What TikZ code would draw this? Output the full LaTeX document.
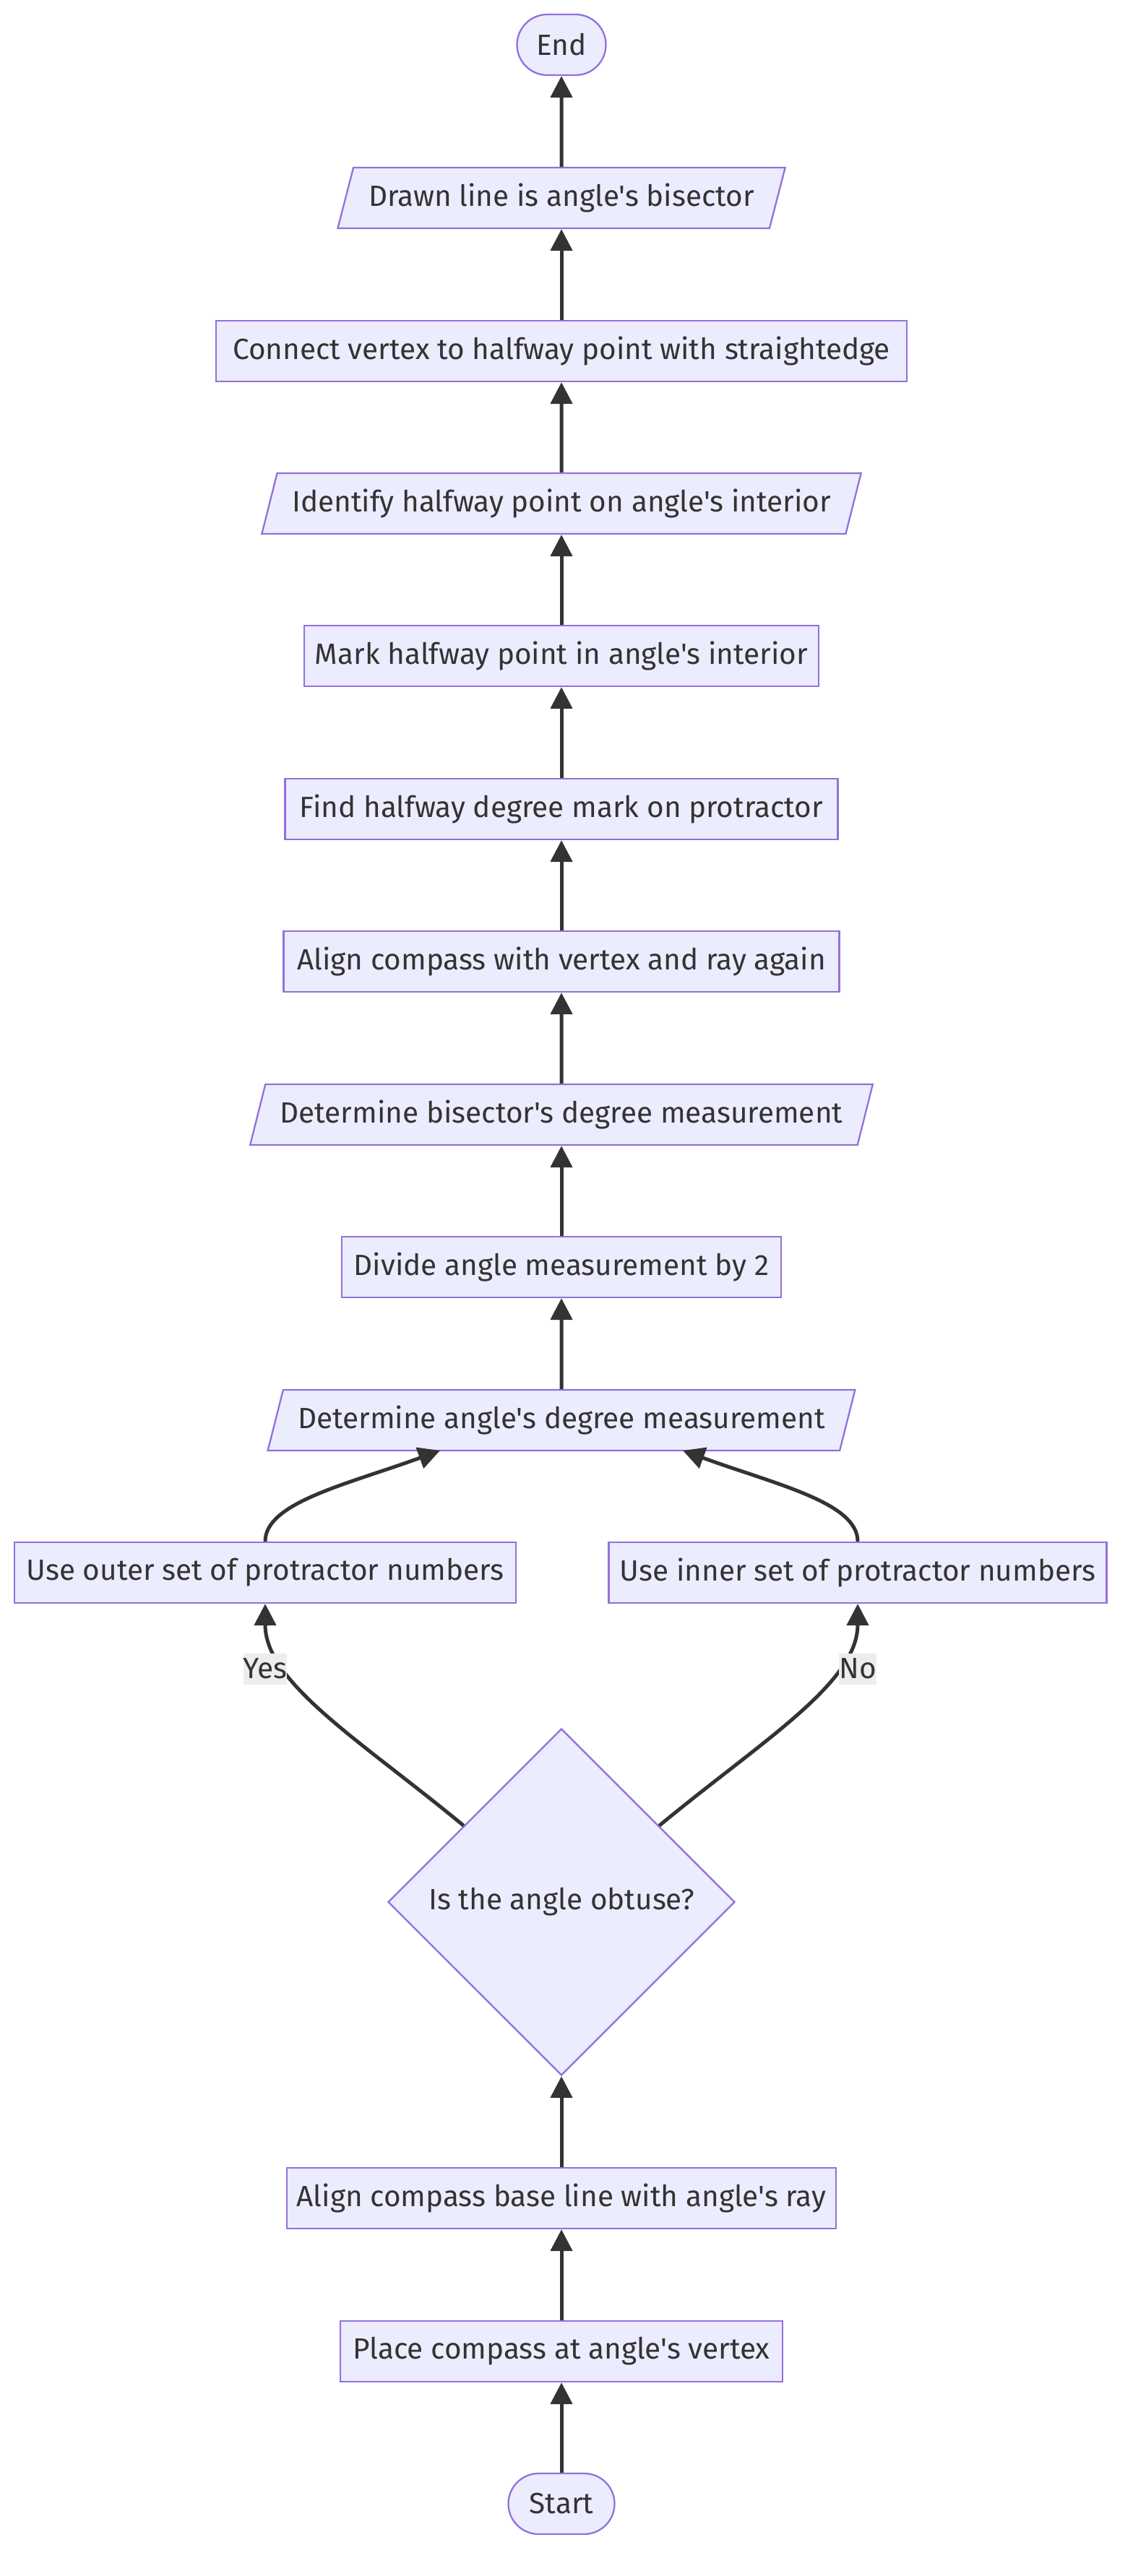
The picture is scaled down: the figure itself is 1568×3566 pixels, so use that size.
\documentclass[tikz,border=0pt]{standalone}
\usepackage{fontspec}
\newfontfamily\chartfont{Fira Sans}
\usetikzlibrary{shapes.geometric,arrows.meta}
\definecolor{boxfill}{HTML}{ECECFF}
\definecolor{boxline}{HTML}{9370DB}
\definecolor{ink}{HTML}{333333}
\definecolor{tagfill}{HTML}{EDEDED}

\begin{document}
\begin{tikzpicture}[x=1pt,y=-1pt]
\tikzset{chartnode/.style={draw=boxline, fill=boxfill, line width=2.3pt, text=ink, inner sep=0pt, minimum height=84pt, font=\chartfont\fontsize{40.5pt}{48pt}\selectfont},
  stepbox/.style={chartnode, rectangle},
  iobox/.style={chartnode, trapezium, trapezium left angle=63.43, trapezium right angle=116.57, trapezium stretches=true},
  termbox/.style={chartnode, rectangle, rounded corners=42pt},
  decidebox/.style={chartnode, diamond, aspect=1, minimum width=480pt, minimum height=480pt},
  tag/.style={fill=tagfill, text=ink, inner xsep=0pt, inner ysep=0pt, minimum height=43pt, font=\chartfont\fontsize{40.5pt}{48pt}\selectfont},
  edgeline/.style={draw=ink, line width=5pt, -{Triangle[length=30pt,width=30pt]}}}
\useasboundingbox (0,0) rectangle (1568,3566);
\node[termbox, minimum width=123pt] (fin) at (777,62) {End};
\node[iobox, minimum width=620pt] (bisector) at (777,274) {Drawn line is angle's bisector};
\node[stepbox, minimum width=956pt] (connect) at (777,486) {Connect vertex to halfway point with straightedge};
\node[iobox, minimum width=833pt] (identify) at (777,697) {Identify halfway point on angle's interior};
\node[stepbox, minimum width=712pt] (mark) at (777,908) {Mark halfway point in angle's interior};
\node[stepbox, minimum width=765pt] (findmark) at (777,1120) {Find halfway degree mark on protractor};
\node[stepbox, minimum width=769pt] (again) at (777,1331) {Align compass with vertex and ray again};
\node[iobox, minimum width=862pt] (bisdeg) at (777,1543) {Determine bisector's degree measurement};
\node[stepbox, minimum width=608pt] (divide) at (777,1754) {Divide angle measurement by 2};
\node[iobox, minimum width=814pt] (angdeg) at (777,1966) {Determine angle's degree measurement};
\node[stepbox, minimum width=694pt] (outer) at (367,2177) {Use outer set of protractor numbers};
\node[stepbox, minimum width=689pt] (inner) at (1187,2177) {Use inner set of protractor numbers};
\node[decidebox] (obtuse) at (777,2633) {Is the angle obtuse?};
\node[stepbox, minimum width=760pt] (baseline) at (777,3043) {Align compass base line with angle's ray};
\node[stepbox, minimum width=612pt] (place) at (777,3255) {Place compass at angle's vertex};
\node[termbox, minimum width=147pt] (start) at (777,3466) {Start};
\draw[edgeline] (start) -- (place);
\draw[edgeline] (place) -- (baseline);
\draw[edgeline] (baseline) -- (obtuse);
\draw[edgeline] (obtuse.142) .. controls (500,2410) and (367,2330) .. (outer);
\draw[edgeline] (obtuse.38) .. controls (1054,2410) and (1187,2330) .. (inner);
\node[tag] (yes) at (367,2310) {Yes};
\node[tag] (no) at (1187,2310) {No};
\draw[edgeline] (outer) .. controls (367,2080) and (480,2055) .. ([shift={(-168,42)}]angdeg.center);
\draw[edgeline] (inner) .. controls (1187,2080) and (1074,2055) .. ([shift={(168,42)}]angdeg.center);
\draw[edgeline] (angdeg) -- (divide);
\draw[edgeline] (divide) -- (bisdeg);
\draw[edgeline] (bisdeg) -- (again);
\draw[edgeline] (again) -- (findmark);
\draw[edgeline] (findmark) -- (mark);
\draw[edgeline] (mark) -- (identify);
\draw[edgeline] (identify) -- (connect);
\draw[edgeline] (connect) -- (bisector);
\draw[edgeline] (bisector) -- (fin);
\end{tikzpicture}
\end{document}
